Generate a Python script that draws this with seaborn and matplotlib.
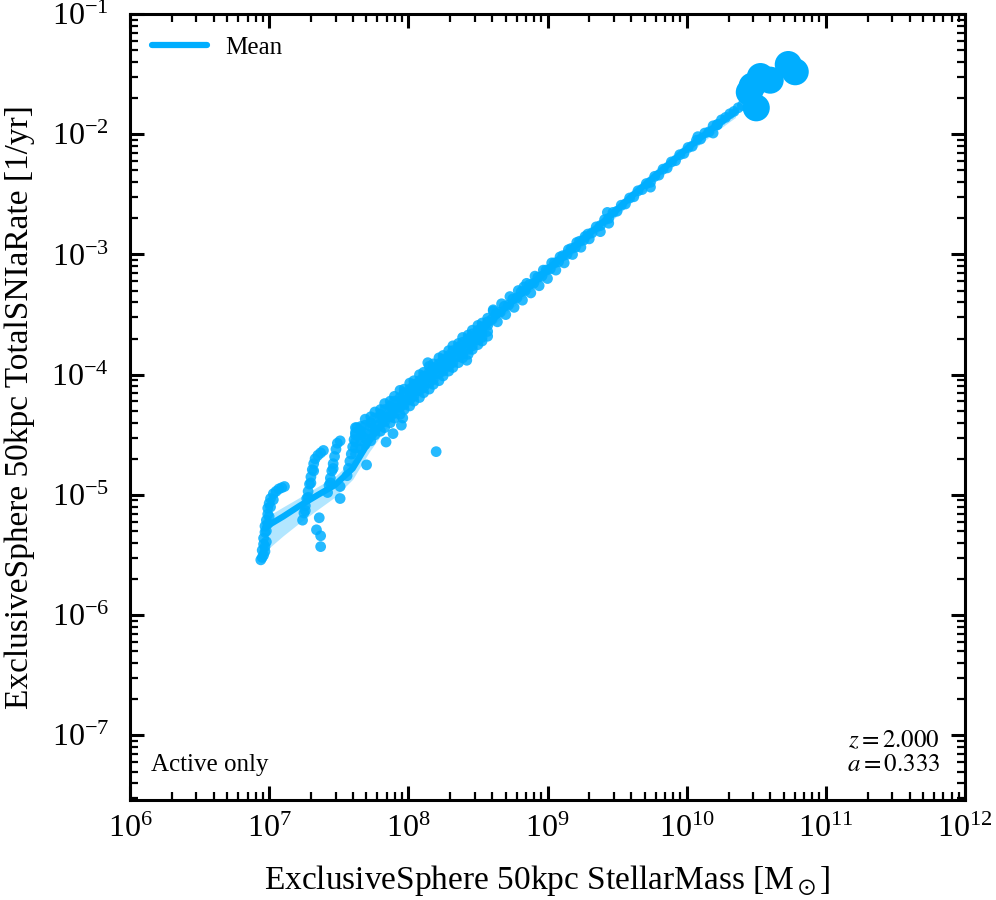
import numpy as np
import pandas as pd
import seaborn as sns
import matplotlib.pyplot as plt
from matplotlib.ticker import LogLocator, NullFormatter

# values are log10(stellar mass / Msun) and log10(SNIa rate / yr)
streak_x = [6.95, 6.95, 6.96, 6.96, 6.97, 6.97, 6.98, 6.99, 6.99, 7.00, 7.01, 7.03, 7.05, 7.07, 7.09, 7.11,
            6.97, 6.98, 6.98, 6.99, 7.00, 7.01, 7.03, 6.96, 6.97, 6.94,
            7.24, 7.25, 7.26, 7.27, 7.28, 7.29, 7.30, 7.31, 7.32, 7.33, 7.35, 7.37, 7.39,
            7.26, 7.28, 7.30, 7.32,
            7.42, 7.43, 7.44, 7.45, 7.46, 7.47, 7.48, 7.49, 7.51, 7.44, 7.46,
            7.56, 7.57, 7.58, 7.59, 7.60, 7.61, 7.62, 7.63]
streak_y = [-5.52, -5.46, -5.41, -5.36, -5.31, -5.26, -5.21, -5.16, -5.11, -5.07, -5.03, -4.99, -4.97, -4.95, -4.94, -4.93,
            -5.47, -5.39, -5.30, -5.24, -5.18, -5.10, -5.04, -5.50, -5.43, -5.54,
            -5.21, -5.15, -5.09, -5.03, -4.97, -4.91, -4.85, -4.79, -4.74, -4.70, -4.67, -4.65, -4.63,
            -5.13, -5.02, -4.90, -4.80,
            -4.98, -4.92, -4.86, -4.80, -4.74, -4.68, -4.62, -4.57, -4.55, -4.90, -4.78,
            -4.84, -4.78, -4.72, -4.66, -4.60, -4.54, -4.48, -4.44]

low_x = [7.62, 7.66, 7.69, 7.73, 7.76, 7.80, 7.83, 7.87, 7.90, 7.94, 7.97, 8.01, 8.04, 8.08,
         8.11, 8.15, 8.18, 8.22, 8.25, 8.29, 8.32, 8.36, 8.39, 8.43, 8.46, 8.50, 8.53, 8.57]
low_top = [-4.44, -4.43, -4.37, -4.35, -4.31, -4.29, -4.24, -4.22, -4.18, -4.13, -4.12, -4.07, -4.05, -4.00,
           -3.98, -3.93, -3.91, -3.86, -3.84, -3.80, -3.76, -3.74, -3.69, -3.67, -3.63, -3.59, -3.57, -3.53]
low_up = [-4.50, -4.47, -4.42, -4.40, -4.36, -4.33, -4.29, -4.26, -4.22, -4.19, -4.15, -4.12, -4.08, -4.05,
          -4.01, -3.98, -3.94, -3.91, -3.87, -3.84, -3.80, -3.77, -3.73, -3.70, -3.66, -3.63, -3.60, -3.56]
low_mid = [-4.56, -4.50, -4.49, -4.43, -4.42, -4.36, -4.35, -4.29, -4.28, -4.22, -4.21, -4.15, -4.14, -4.08,
           -4.07, -4.01, -4.00, -3.94, -3.93, -3.87, -3.86, -3.80, -3.79, -3.73, -3.72, -3.66, -3.65, -3.59]
low_dn = [-4.61, -4.55, -4.53, -4.49, -4.46, -4.41, -4.39, -4.35, -4.32, -4.27, -4.25, -4.21, -4.18, -4.13,
          -4.11, -4.07, -4.04, -3.99, -3.97, -3.93, -3.90, -3.85, -3.83, -3.79, -3.76, -3.71, -3.69, -3.64]
low_bot = [-4.66, -4.62, -4.58, -4.55, -4.50, -4.47, -4.44, -4.40, -4.36, -4.33, -4.29, -4.26, -4.22, -4.19,
           -4.15, -4.12, -4.08, -4.05, -4.01, -3.97, -3.94, -3.90, -3.86, -3.83, -3.79, -3.75, -3.72, -3.68]

high_x = [8.60, 8.63, 8.66, 8.69, 8.72, 8.75, 8.78, 8.81, 8.84, 8.87, 8.90, 8.93, 8.96, 8.99, 9.02, 9.05,
          9.08, 9.11, 9.14, 9.17, 9.20, 9.23, 9.26, 9.29, 9.32, 9.35, 9.38, 9.41, 9.44, 9.47, 9.50, 9.53,
          9.56, 9.59, 9.62, 9.65, 9.68, 9.71, 9.74, 9.77, 9.80, 9.83, 9.86, 9.89, 9.92, 9.95, 9.98, 10.01,
          10.04, 10.07, 10.10, 10.13, 10.16, 10.19, 10.22, 10.25, 10.28, 10.31, 10.34, 10.37, 10.40]
high_y = [-3.54, -3.49, -3.48, -3.43, -3.42, -3.37, -3.36, -3.31, -3.30, -3.25, -3.24, -3.19, -3.18, -3.13, -3.12, -3.07,
          -3.06, -3.01, -3.00, -2.95, -2.94, -2.89, -2.88, -2.83, -2.82, -2.77, -2.76, -2.71, -2.70, -2.65, -2.64, -2.59,
          -2.58, -2.53, -2.52, -2.47, -2.46, -2.41, -2.40, -2.35, -2.34, -2.29, -2.28, -2.23, -2.22, -2.17, -2.16, -2.11,
          -2.10, -2.05, -2.04, -1.99, -1.98, -1.93, -1.92, -1.88, -1.86, -1.83, -1.81, -1.78, -1.76]
side_x = [8.61, 8.64, 8.67, 8.70, 8.73, 8.76, 8.79, 8.82, 8.85, 8.88, 8.91, 8.94, 8.97, 9.00, 9.03, 9.06,
          9.09, 9.12, 9.15, 9.18, 9.21, 9.24, 9.27, 9.30]
side_y = [-3.47, -3.56, -3.41, -3.50, -3.35, -3.44, -3.30, -3.38, -3.24, -3.32, -3.18, -3.26, -3.13, -3.20, -3.07, -3.13,
          -3.02, -3.07, -2.96, -3.00, -2.90, -2.94, -2.85, -2.87]

odd_x = [7.36, 7.34, 7.37, 7.37, 7.51, 7.51, 8.20, 7.70, 7.84, 7.89, 7.95, 8.14, 8.42, 8.61, 8.83, 7.96,
         9.43, 9.44, 9.38, 9.74, 10.08, 10.19, 10.22]
odd_y = [-5.19, -5.29, -5.34, -5.43, -4.93, -5.03, -4.64, -4.75, -4.56, -4.49, -4.42, -3.90, -3.88, -3.46, -3.27, -4.36,
         -2.65, -2.74, -2.81, -2.44, -2.02, -1.99, -1.92]

big_x = [10.73, 10.78, 10.60, 10.53, 10.45, 10.50, 10.47]
big_y = [-1.42, -1.48, -1.55, -1.52, -1.65, -1.78, -1.60]

mean_x = [6.97, 7.10, 7.22, 7.35, 7.47, 7.60, 7.72, 7.85, 7.97, 8.10, 8.22, 8.35, 8.47, 8.60,
          8.72, 8.85, 8.97, 9.10, 9.22, 9.35, 9.47, 9.60, 9.72, 9.85, 9.97, 10.10, 10.22, 10.35]
mean_y = [-5.27, -5.18, -5.09, -5.00, -4.92, -4.78, -4.55, -4.35, -4.21, -4.07, -3.95, -3.81, -3.70, -3.55,
          -3.42, -3.29, -3.16, -3.02, -2.91, -2.78, -2.66, -2.52, -2.40, -2.27, -2.15, -2.03, -1.92, -1.81]
mean_lo = [-5.47, -5.34, -5.23, -5.12, -5.02, -4.87, -4.64, -4.43, -4.28, -4.14, -4.01, -3.87, -3.75, -3.60,
           -3.47, -3.34, -3.21, -3.07, -2.96, -2.83, -2.71, -2.57, -2.45, -2.32, -2.20, -2.08, -1.97, -1.86]
mean_hi = [-5.19, -5.10, -5.02, -4.93, -4.85, -4.71, -4.48, -4.28, -4.15, -4.01, -3.89, -3.76, -3.65, -3.50,
           -3.37, -3.24, -3.11, -2.97, -2.86, -2.73, -2.61, -2.47, -2.35, -2.22, -2.10, -1.98, -1.87, -1.76]

colour = '#00AEFF'

sns.set_theme(style='ticks')
plt.rcParams['font.family'] = ['Liberation Serif', 'DejaVu Serif']
plt.rcParams['mathtext.fontset'] = 'stix'
plt.rcParams.update({'text.color': 'black', 'axes.labelcolor': 'black',
                     'xtick.color': 'black', 'ytick.color': 'black'})

pts_x = streak_x + low_x * 5 + high_x + side_x + odd_x
pts_y = streak_y + low_top + low_up + low_mid + low_dn + low_bot + high_y + side_y + odd_y
df = pd.DataFrame({'mass': 10 ** np.array(pts_x), 'rate': 10 ** np.array(pts_y)})
big = pd.DataFrame({'mass': 10 ** np.array(big_x), 'rate': 10 ** np.array(big_y)})
mean = pd.DataFrame({'mass': 10 ** np.array(mean_x), 'rate': 10 ** np.array(mean_y),
                     'lo': 10 ** np.array(mean_lo), 'hi': 10 ** np.array(mean_hi)})

fig = plt.figure(figsize=(9.96, 9.0), dpi=100)
ax = fig.add_axes([0.1305, 0.1111, 0.8384, 0.8733])
ax.set_xscale('log')
ax.set_yscale('log')

ax.fill_between(mean['mass'], mean['lo'], mean['hi'], color=colour, alpha=0.3, lw=0, zorder=1)
sns.scatterplot(data=df, x='mass', y='rate', ax=ax, color=colour, s=60, alpha=0.85,
                edgecolor='none', linewidth=0, zorder=2)
sns.scatterplot(data=big, x='mass', y='rate', ax=ax, color=colour, s=380, alpha=1.0,
                edgecolor='none', linewidth=0, zorder=3)
sns.lineplot(data=mean, x='mass', y='rate', ax=ax, color=colour, lw=4.5, estimator=None,
             sort=False, label='Mean', zorder=4)

ax.set_xlim(1e6, 1e12)
ax.set_ylim(2.9e-8, 1e-1)
ax.xaxis.set_major_locator(LogLocator(base=10, numticks=20))
ax.yaxis.set_major_locator(LogLocator(base=10, numticks=20))
ax.xaxis.set_minor_locator(LogLocator(base=10, subs=np.arange(2, 10), numticks=20))
ax.yaxis.set_minor_locator(LogLocator(base=10, subs=np.arange(2, 10), numticks=20))
ax.xaxis.set_minor_formatter(NullFormatter())
ax.yaxis.set_minor_formatter(NullFormatter())

ax.tick_params(which='both', direction='in', top=True, right=True, colors='black')
ax.tick_params(which='major', length=10, width=2.2, labelsize=23)
ax.tick_params(axis='x', which='major', pad=11)
ax.tick_params(axis='y', which='major', pad=15)
ax.tick_params(which='minor', length=5.5, width=1.6)
for sp in ax.spines.values():
    sp.set_linewidth(2.2)
    sp.set_color('black')

ax.set_xlabel(r'ExclusiveSphere 50kpc StellarMass [M$_\odot$]', fontsize=24, labelpad=13)
ax.set_ylabel('ExclusiveSphere 50kpc TotalSNIaRate [1/yr]', fontsize=24, labelpad=12)

ax.text(0.025, 0.03, 'Active only', transform=ax.transAxes, fontsize=18, ha='left', va='bottom')
ax.text(0.97, 0.03, '$z = 2.000$\n$a = 0.333$', transform=ax.transAxes, fontsize=18,
        ha='right', va='bottom', linespacing=1.1)

ax.legend(loc='upper left', frameon=False, fontsize=18, handlelength=2.2, handletextpad=0.7,
          borderaxespad=0.5)

fig.savefig('out.png', dpi=100, facecolor='white')
